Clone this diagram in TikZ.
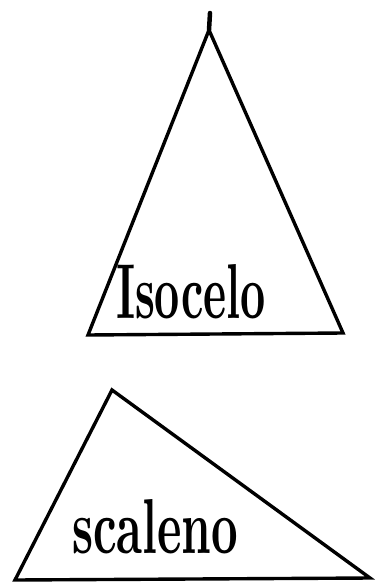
\documentclass[tikz,border=0pt]{standalone}
\usepackage{graphicx}
\tikzset{
  edge/.style={draw=black, line width=3.4pt, line join=miter, line cap=round},
  label/.style={inner sep=0pt, outer sep=0pt, anchor=base west, font=\bfseries}
}
\begin{document}
\begin{tikzpicture}[x=1pt,y=-1pt]
\useasboundingbox (0,0) rectangle (376,585);
% isosceles triangle
\coordinate (tip) at (210,13);
\coordinate (ia) at (209,30);
\coordinate (ib) at (88,335);
\coordinate (ic) at (343,333);
\draw[edge, line width=4.5pt] (tip) -- (ia);
\draw[edge] (ia) -- (ib) -- (ic) -- cycle;
\node[label] (iso) at (116,318) {\resizebox{150pt}{54pt}{Isocelo}};
% scalene triangle
\coordinate (sa) at (112,390);
\coordinate (sb) at (15,580);
\coordinate (sc) at (370,578);
\draw[edge] (sa) -- (sb) -- (sc) -- cycle;
\node[label] (sca) at (72,553) {\resizebox{166pt}{54pt}{scaleno}};
\end{tikzpicture}
\end{document}
